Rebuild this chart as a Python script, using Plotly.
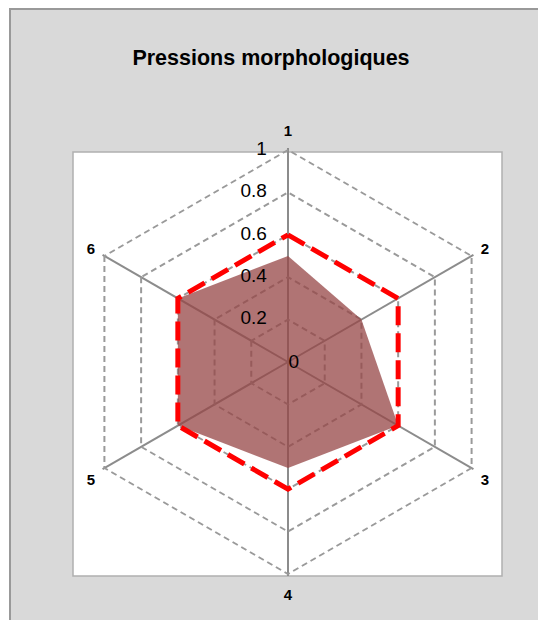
import plotly.graph_objects as go

categories = ["1", "2", "3", "4", "5", "6"]
pressions = [0.5, 0.4, 0.6, 0.5, 0.6, 0.6]
seuil = [0.6, 0.6, 0.6, 0.6, 0.6, 0.6]
radial_ticks = [0, 0.2, 0.4, 0.6, 0.8, 1]
radial_labels = ["0", "0.2", "0.4", "0.6", "0.8", "1"]

OFF = 8  # browser body margin
W, H = 546 - OFF, 620 - OFF
NB = "\u00a0"


def px(x):
    return (x - OFF) / W


def py(y):
    return 1 - (y - OFF) / H


RMIN, RMAX = 0, 1.01
R = 212 * (RMAX - RMIN)
CX, CY = 288, 362

fig = go.Figure()
fig.add_trace(go.Scatterpolar(
    r=pressions + pressions[:1], theta=categories + categories[:1],
    mode="lines", fill="toself",
    fillcolor="rgba(150,70,70,0.75)", line=dict(width=0, color="rgba(0,0,0,0)"),
    hoverinfo="skip", showlegend=False))
fig.add_trace(go.Scatterpolar(
    r=seuil + seuil[:1], theta=categories + categories[:1],
    mode="lines", line=dict(color="#ff0000", width=5, dash="19px,8px"),
    hoverinfo="skip", showlegend=False))

# radial tick labels 0.2 .. 1, placed left of axis "1"
tick_font = dict(size=19, family="Liberation Sans, Arial", color="#000000")
fig.add_trace(go.Scatterpolar(
    r=radial_ticks[1:], theta=[categories[0]] * len(radial_ticks[1:]),
    mode="text", text=[t + NB * 4 for t in radial_labels[1:]],
    textposition="middle left", textfont=tick_font,
    hoverinfo="skip", showlegend=False, cliponaxis=False))

# the centre label "0" is drawn by the radial axis itself
axis_text = [radial_labels[0] + NB * 9] + [""] * (len(radial_ticks) - 1)

fig.update_layout(
    width=W, height=H,
    margin=dict(l=0, r=0, t=0, b=0),
    paper_bgcolor="#ffffff",
    showlegend=False,
    font=dict(family="Liberation Sans, Arial", color="#000000"),
    title=dict(text="<b>Pressions morphologiques</b>", x=px(271), xanchor="center",
               y=py(57), yanchor="middle", yref="container",
               font=dict(size=21.5, color="#000000")),
    polar=dict(
        domain=dict(x=[px(CX - R), px(CX + R)], y=[py(CY + R), py(CY - R)]),
        bgcolor="rgba(0,0,0,0)",
        gridshape="linear",
        angularaxis=dict(direction="clockwise", rotation=90,
                         categoryorder="array", categoryarray=categories,
                         showline=False, showgrid=True, gridcolor="#8c8c8c", gridwidth=1.5,
                         ticks="outside", ticklen=5, tickcolor="rgba(0,0,0,0)",
                         tickfont=dict(size=15, family="Liberation Sans, Arial", weight="bold")),
        radialaxis=dict(range=[RMIN, RMAX], tickvals=radial_ticks, ticktext=axis_text,
                        angle=90, tickangle=90, showticklabels=True,
                        tickfont=tick_font,
                        showline=False, ticks="", showgrid=True,
                        gridcolor="#9a9a9a", gridwidth=1.5, griddash="6px,4px"),
    ),
    shapes=[
        dict(type="rect", xref="paper", yref="paper", x0=px(10), x1=1.05, y0=-0.05, y1=py(9),
             line=dict(color="#999999", width=2), fillcolor="#d9d9d9", layer="below"),
        dict(type="rect", xref="paper", yref="paper", x0=px(73), x1=px(502),
             y0=py(576), y1=py(152),
             line=dict(color="#b0b0b0", width=1.5), fillcolor="#ffffff", layer="below"),
    ],
)

fig.write_html("out.html")
